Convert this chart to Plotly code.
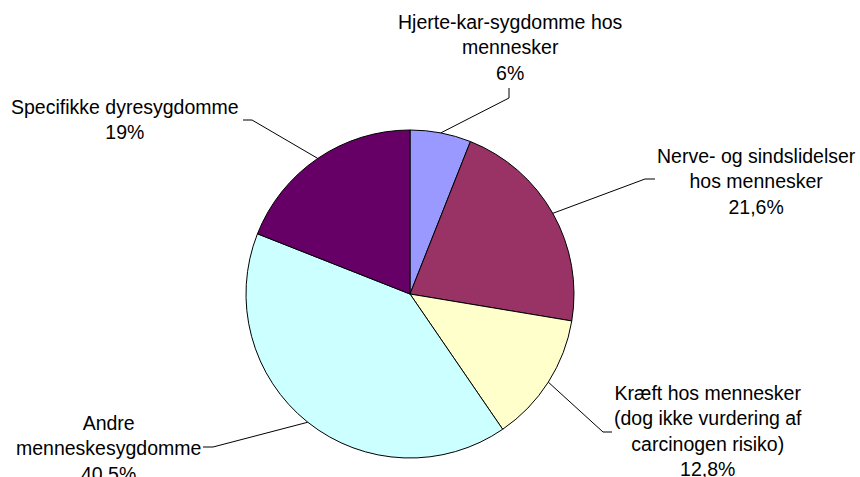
import math
import plotly.graph_objects as go

categories = [
    "Hjerte-kar-sygdomme hos<br>mennesker",
    "Nerve- og sindslidelser<br>hos mennesker",
    "Kræft hos mennesker<br>(dog ikke vurdering af<br>carcinogen risiko)",
    "Andre<br>menneskesygdomme",
    "Specifikke dyresygdomme",
]
values = [6.0, 21.6, 12.8, 40.5, 19.0]
value_labels = ["6%", "21,6%", "12,8%", "40,5%", "19%"]
colors = ["#9999FF", "#993366", "#FFFFCC", "#CCFFFF", "#660066"]

W, H = 860, 477
CX, CY, R = 410, 294, 164

def px(x):
    return x / W

def py(y):
    return 1 - y / H

fig = go.Figure()
fig.add_trace(go.Pie(
    labels=[c.replace("<br>", " ") for c in categories],
    values=values,
    sort=False,
    direction="clockwise",
    rotation=0,
    marker=dict(colors=colors, line=dict(color="black", width=1)),
    textinfo="none",
    hoverinfo="label+percent",
    showlegend=False,
    domain=dict(x=[px(CX - R), px(CX + R)], y=[py(CY + R), py(CY - R)]),
))

# label block centres and leader elbow/end points (pixels)
label_pos = [(510, 47), (756, 181), (708, 431), (108, 448), (125, 120)]
elbows = [((509, 98), (509, 88)), ((645, 179), (655, 179)), ((603, 432), (612, 432)),
          ((213, 447), (203, 447)), ((252, 120), (243, 120))]

total = sum(values)
cum = 0.0
annotations = []
shapes = []
for i, v in enumerate(values):
    mid = (cum + v / 2) / total * 2 * math.pi
    cum += v
    ax = CX + R * math.sin(mid)
    ay = CY - R * math.cos(mid)
    (ex, ey), (tx, ty) = elbows[i]
    shapes.append(dict(
        type="path", xref="paper", yref="paper",
        path=f"M {px(ax)},{py(ay)} L {px(ex)},{py(ey)} L {px(tx)},{py(ty)}",
        line=dict(color="black", width=1),
    ))
    lx, ly = label_pos[i]
    annotations.append(dict(
        x=px(lx), y=py(ly), xref="paper", yref="paper",
        text=categories[i] + "<br>" + value_labels[i],
        showarrow=False, xanchor="center", yanchor="middle", align="center",
        font=dict(family="Liberation Sans, Arial, sans-serif", size=19.5, color="black"),
    ))

fig.update_layout(
    width=W, height=H,
    margin=dict(l=0, r=0, t=0, b=0),
    paper_bgcolor="white",
    plot_bgcolor="white",
    annotations=annotations,
    shapes=shapes,
)

fig.write_html(
    "out.html",
    config={"displayModeBar": False},
    post_script="document.body.style.margin='0';document.body.style.overflow='hidden';",
)
